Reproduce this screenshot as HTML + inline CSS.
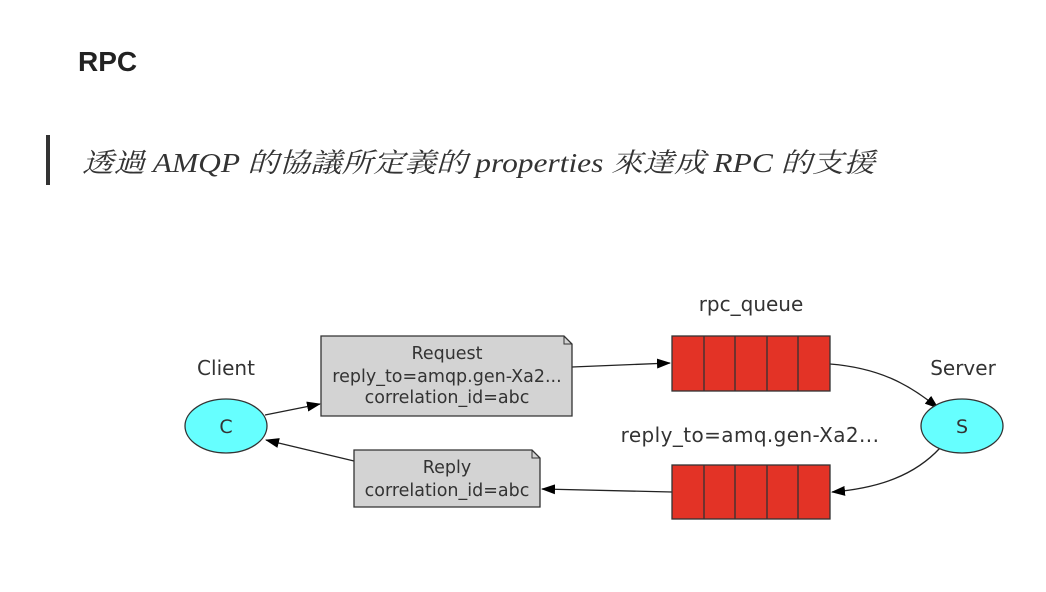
<!DOCTYPE html>
<html><head><meta charset="utf-8"><style>
html,body{margin:0;padding:0;background:#fff;width:1046px;height:592px;overflow:hidden}
</style></head><body>
<svg width="1046" height="592" viewBox="0 0 1046 592" xmlns="http://www.w3.org/2000/svg">
<defs>
<marker id="a" markerWidth="14" markerHeight="10" refX="13" refY="5" orient="auto" markerUnits="userSpaceOnUse">
<path d="M0,0 L14,5 L0,10 z" fill="#000"/></marker>
</defs>
<text x="78" y="71" font-family="Liberation Sans, sans-serif" font-weight="bold" font-size="28" fill="#222">RPC</text>
<rect x="46" y="135" width="4" height="50" fill="#333"/>
<text x="82" y="172" font-family="Liberation Serif, 'Noto Serif CJK SC', serif" font-style="italic" font-size="27" fill="#333" textLength="793" lengthAdjust="spacingAndGlyphs">透過 AMQP 的協議所定義的 properties 來達成 RPC 的支援</text>

<g font-family="DejaVu Sans, sans-serif" font-size="20" fill="#333" text-anchor="middle">
<text x="226" y="375">Client</text>
<text x="963" y="375">Server</text>
<text x="751" y="311">rpc_queue</text>
<text x="750" y="442" letter-spacing="0.4">reply_to=amq.gen-Xa2...</text>
</g>

<g stroke="#222" stroke-width="1.3" fill="none">
<path d="M265,415 L320,404" marker-end="url(#a)"/>
<path d="M572,367 L670,363" marker-end="url(#a)"/>
<path d="M830,364 C880,368 910,385 938,408" marker-end="url(#a)"/>
<path d="M940,448 C915,475 880,488 832,492" marker-end="url(#a)"/>
<path d="M672,492 L542,489" marker-end="url(#a)"/>
<path d="M354,461 L266,440" marker-end="url(#a)"/>
</g>

<ellipse cx="226" cy="426" rx="41" ry="27" fill="#6ff" stroke="#333" stroke-width="1.3"/>
<ellipse cx="962" cy="426" rx="41" ry="27" fill="#6ff" stroke="#333" stroke-width="1.3"/>
<g font-family="DejaVu Sans, sans-serif" font-size="19" fill="#333" text-anchor="middle">
<text x="226" y="433">C</text>
<text x="962" y="433">S</text>
</g>

<path d="M321,336 L564,336 L572,344 L572,416 L321,416 Z" fill="#d3d3d3" stroke="#333" stroke-width="1.3"/>
<path d="M564,336 L564,344 L572,344" fill="none" stroke="#333" stroke-width="1"/>
<path d="M354,450 L532,450 L540,458 L540,507 L354,507 Z" fill="#d3d3d3" stroke="#333" stroke-width="1.3"/>
<path d="M532,450 L532,458 L540,458" fill="none" stroke="#333" stroke-width="1"/>
<g font-family="DejaVu Sans, sans-serif" font-size="17.5" fill="#333" text-anchor="middle">
<text x="447" y="359">Request</text>
<text x="447" y="382">reply_to=amqp.gen-Xa2...</text>
<text x="447" y="403">correlation_id=abc</text>
<text x="447" y="473">Reply</text>
<text x="447" y="496">correlation_id=abc</text>
</g>

<g fill="#e33326" stroke="#333" stroke-width="1.3">
<rect x="672" y="336" width="158" height="55"/>
<rect x="672" y="465" width="158" height="54"/>
</g>
<g stroke="#333" stroke-width="1.3">
<line x1="704" y1="336" x2="704" y2="391"/><line x1="735" y1="336" x2="735" y2="391"/><line x1="767" y1="336" x2="767" y2="391"/><line x1="798" y1="336" x2="798" y2="391"/>
<line x1="704" y1="465" x2="704" y2="519"/><line x1="735" y1="465" x2="735" y2="519"/><line x1="767" y1="465" x2="767" y2="519"/><line x1="798" y1="465" x2="798" y2="519"/>
</g>
</svg>
</body></html>
